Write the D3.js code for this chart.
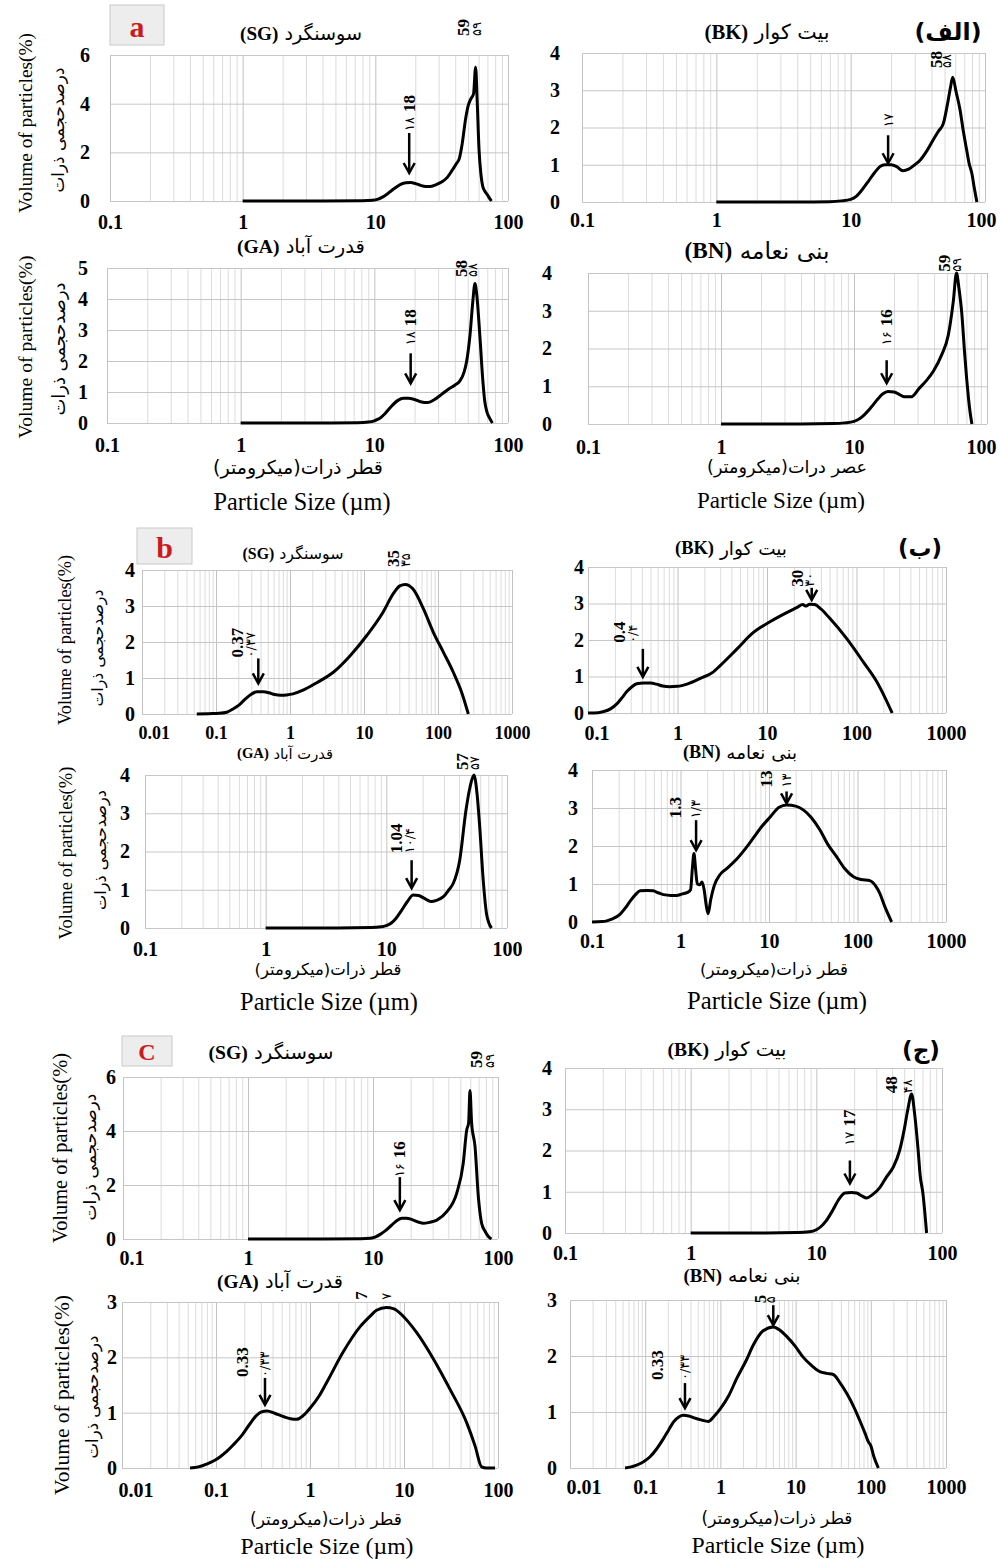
<!DOCTYPE html>
<html>
<head>
<meta charset="utf-8">
<script src="https://cdn.jsdelivr.net/npm/d3@7"></script>
<style>
  body { margin: 0; background: #fff; }
</style>
</head>
<body>
<svg id="chart" width="1000" height="1559"></svg>
<script>
// ---- tick values ----
const xTicks01to100 = [0.1, 1, 10, 100];
const xTicks001to1000 = [0.01, 0.1, 1, 10, 100, 1000];
const xTicks01to1000 = [0.1, 1, 10, 100, 1000];
const xTicks001to100 = [0.01, 0.1, 1, 10, 100];
const yTicks6 = [0, 2, 4, 6];
const yTicks5 = [0, 1, 2, 3, 4, 5];
const yTicks4 = [0, 1, 2, 3, 4];
const yTicks3 = [0, 1, 2, 3];

const stations = { SG: 'سوسنگرد', BK: 'بیت کوار', GA: 'قدرت آباد', BN: 'بنی نعامه' };

// ---- size distributions: [particle size (um), volume %] ----
// (a / الف)
const sgA = [[1,0],[4,0],[8,0.01],[9.5,0.03],[10.5,0.08],[11.5,0.18],[12.5,0.32],[14,0.52],[15.5,0.68],[17,0.75],[18.5,0.76],[20,0.72],[22,0.64],[24,0.6],[26,0.6],[29,0.68],[32,0.8],[35,0.98],[38,1.27],[41,1.55],[43,1.75],[45,2.3],[48,3.4],[50,3.9],[52.5,4.2],[55,4.4],[57,5.5],[58.5,4.2],[60.5,2.1],[62.5,1.1],[64.5,0.6],[67,0.4],[70,0.25],[72.5,0.12],[75,0]];
const bkA = [[1,0],[4,0],[7,0.01],[8.5,0.03],[10,0.07],[11,0.15],[12,0.3],[13.5,0.55],[15,0.78],[16.5,0.95],[18,1.0],[20,1.0],[22,0.95],[24.5,0.84],[27,0.88],[30,1.0],[33,1.13],[37,1.38],[41,1.66],[45,1.9],[49,2.11],[53,2.7],[55.5,3.1],[57.5,3.35],[61,2.95],[65,2.5],[69,1.9],[73,1.4],[76,1.05],[80,0.75],[83,0.4],[87,0]];
const gaA = [[1,0],[4,0],[7.5,0.01],[9,0.03],[10,0.07],[11,0.15],[12,0.3],[13.5,0.55],[15,0.73],[16.5,0.8],[18,0.8],[20,0.76],[22.5,0.68],[25,0.66],[28,0.75],[32,0.93],[36,1.1],[40,1.22],[43.5,1.35],[47,1.65],[49,1.98],[52,2.85],[54.5,3.9],[56.6,4.5],[58.5,4.1],[61.5,2.85],[65,1.3],[67,0.7],[69.5,0.36],[73,0.15],[76.5,0]];
const bnA = [[1,0],[4,0],[7,0.01],[8.5,0.03],[10,0.07],[11,0.14],[12,0.25],[13.5,0.45],[15,0.65],[16.5,0.8],[18,0.86],[20,0.85],[22,0.78],[24,0.72],[27,0.72],[31,0.95],[35,1.15],[39.4,1.39],[45.6,1.83],[51.2,2.36],[55.8,3.25],[59,4.0],[61.5,3.6],[64.5,2.97],[67.5,2.0],[70.3,1.2],[72.5,0.7],[74.5,0.33],[77,0]];
// (b / ب)
const sgB = [[0.055,0],[0.08,0.01],[0.11,0.02],[0.14,0.05],[0.17,0.14],[0.21,0.27],[0.25,0.42],[0.3,0.55],[0.36,0.62],[0.44,0.62],[0.52,0.59],[0.62,0.54],[0.75,0.52],[0.9,0.53],[1.1,0.56],[1.5,0.66],[2.3,0.87],[3.85,1.16],[6.5,1.62],[10.9,2.18],[18,2.82],[25,3.35],[30.5,3.56],[36,3.6],[46,3.47],[63.6,2.92],[86.5,2.27],[118,1.72],[161,1.16],[209,0.6],[257,0]];
const bkB = [[0.1,0],[0.13,0.01],[0.15,0.04],[0.18,0.12],[0.21,0.25],[0.24,0.42],[0.27,0.58],[0.31,0.72],[0.35,0.8],[0.42,0.82],[0.5,0.82],[0.58,0.79],[0.68,0.74],[0.82,0.72],[1.0,0.73],[1.3,0.8],[1.8,0.95],[2.5,1.12],[3.0,1.3],[4.6,1.75],[7,2.2],[10.8,2.5],[16.6,2.75],[22,2.9],[25,2.97],[27,2.93],[30,2.98],[34,2.97],[40,2.85],[50,2.6],[77,2.05],[119,1.4],[168,0.86],[210,0.4],[250,0]];
const gaB = [[1,0],[4,0],[7.5,0.01],[9,0.03],[10,0.06],[11,0.13],[12,0.25],[13.5,0.48],[15,0.7],[16.7,0.86],[18.5,0.85],[20.5,0.78],[23.5,0.69],[26,0.72],[29.7,0.82],[33,1.0],[35.9,1.17],[40.6,1.78],[45.7,3.08],[49.5,3.7],[53.2,4.0],[56.5,3.5],[59.4,2.65],[63.2,1.34],[67.6,0.38],[71,0.12],[74.5,0]];
const bnB = [[0.1,0],[0.13,0.01],[0.147,0.03],[0.17,0.08],[0.207,0.2],[0.24,0.38],[0.27,0.55],[0.31,0.72],[0.35,0.82],[0.42,0.83],[0.49,0.82],[0.56,0.77],[0.64,0.72],[0.78,0.7],[0.9,0.7],[1.05,0.74],[1.2,0.78],[1.3,0.85],[1.36,1.4],[1.42,1.8],[1.48,1.4],[1.55,1.0],[1.65,0.98],[1.75,1.05],[1.85,0.85],[1.95,0.45],[2.05,0.22],[2.2,0.6],[2.4,0.95],[2.8,1.25],[3.3,1.4],[4.3,1.65],[5.5,1.95],[6.6,2.2],[8.2,2.5],[10.2,2.75],[13,3.02],[15.8,3.08],[20,3.05],[24.4,2.95],[30,2.75],[37.7,2.42],[46,2.05],[58,1.72],[72,1.4],[90,1.19],[110,1.12],[138,1.09],[160,0.95],[179,0.75],[200,0.45],[243,0]];
// (c / ج)
const sgC = [[1,0],[4,0],[8,0.01],[9.5,0.03],[10.5,0.08],[11.5,0.18],[12.5,0.3],[14,0.5],[15.5,0.68],[17,0.77],[18.5,0.77],[20.5,0.72],[23,0.63],[25.2,0.58],[28.5,0.62],[32.4,0.7],[38.9,1.01],[46.7,1.69],[52.7,2.8],[56.2,4.04],[58.2,4.3],[59.7,5.5],[61.5,4.3],[65.5,3.42],[69.6,1.57],[74,0.58],[79,0.28],[83.4,0.1],[88.6,0]];
const bkC = [[1,0],[4,0],[7,0.01],[8.8,0.03],[10,0.08],[11,0.17],[12,0.3],[13.5,0.55],[15,0.8],[16.9,0.97],[19,0.98],[20.9,0.97],[23,0.9],[25.1,0.85],[28,0.93],[32,1.1],[36,1.35],[41,1.6],[46,2.0],[50,2.5],[53.5,3.0],[57.3,3.37],[60.5,2.9],[64.6,2.0],[67,1.4],[70.5,0.96],[73,0.5],[75.4,0]];
const gaC = [[0.053,0],[0.065,0.02],[0.079,0.07],[0.095,0.13],[0.11,0.2],[0.13,0.3],[0.153,0.42],[0.19,0.6],[0.23,0.8],[0.27,0.95],[0.3,1.01],[0.35,1.03],[0.42,0.99],[0.52,0.93],[0.62,0.89],[0.72,0.88],[0.85,0.95],[1.0,1.08],[1.25,1.3],[1.51,1.55],[2.26,2.1],[3.4,2.55],[4.4,2.75],[5.1,2.85],[6.5,2.9],[7.7,2.88],[9.06,2.8],[11,2.65],[13.6,2.45],[20.4,1.98],[30.9,1.42],[46.4,0.82],[57,0.4],[67,0.02],[75,0],[93,0]];
const bnC = [[0.054,0],[0.065,0.02],[0.077,0.05],[0.095,0.11],[0.116,0.2],[0.14,0.33],[0.174,0.52],[0.205,0.68],[0.237,0.82],[0.28,0.91],[0.32,0.94],[0.38,0.93],[0.437,0.9],[0.55,0.86],[0.69,0.83],[0.82,0.92],[0.99,1.05],[1.3,1.3],[1.65,1.6],[2.2,1.92],[2.75,2.2],[3.7,2.45],[5.06,2.52],[6.2,2.46],[7.6,2.35],[9.8,2.18],[12.6,1.98],[16,1.84],[21,1.72],[26,1.69],[31.7,1.67],[39,1.52],[48,1.33],[60,1.08],[71.8,0.84],[85,0.6],[92.6,0.47],[100,0.4],[110,0.2],[126,0]];

// ---- peak annotations: x = size, y = value at arrow tip / label foot ----
const notesA1 = [{x: 18, y: 1.15, en: '18', fa: '۱۸'}, {x: 57, y: 6.78, en: '59', fa: '۵۹'}];
const notesA2 = [{x: 19, y: 1.04, en: '', fa: '۱۷'}, {x: 57.5, y: 3.6, en: '58', fa: '۵۸'}];
const notesA3 = [{x: 18.7, y: 1.28, en: '18', fa: '۱۸'}, {x: 56.6, y: 4.71, en: '58', fa: '۵۸'}];
const notesA4 = [{x: 17.6, y: 1.08, en: '16', fa: '۱۶'}, {x: 59, y: 4.03, en: '59', fa: '۵۹'}];
const notesB1 = [{x: 0.373, y: 0.85, en: '0.37', fa: '۰/۳۷'}, {x: 35, y: 4.08, en: '35', fa: '۳۵'}];
const notesB2 = [{x: 0.41, y: 0.99, en: '0.4', fa: '۰/۴'}, {x: 31.6, y: 3.1, en: '30', fa: '۳۰'}];
const notesB3 = [{x: 16.2, y: 1.04, en: '1.04', fa: '۱۰/۴'}, {x: 53.2, y: 4.13, en: '57', fa: '۵۷'}];
const notesB4 = [{x: 1.5, y: 1.89, en: '1.3', fa: '۱/۳'}, {x: 15.8, y: 3.12, en: '13', fa: '۱۳'}];
const notesC1 = [{x: 16.4, y: 1.07, en: '16', fa: '۱۶'}, {x: 59.7, y: 6.33, en: '59', fa: '۵۹'}];
const notesC2 = [{x: 18.5, y: 1.2, en: '17', fa: '۱۷'}, {x: 57.3, y: 3.39, en: '48', fa: '۴۸'}];
const notesC3 = [{x: 0.332, y: 1.14, en: '0.33', fa: '۰/۳۳'}, {x: 6.55, y: 3.04, en: '7', fa: '۷'}];
const notesC4 = [{x: 0.338, y: 1.07, en: '0.33', fa: '۰/۳۳'}, {x: 5.05, y: 2.55, en: '5', fa: '۵'}];

const SERIF = '"Liberation Serif", "Times New Roman", serif';
const FA = '"DejaVu Sans", sans-serif';
const X_FA = 'قطر ذرات(میکرومتر)';
const X_EN = 'Particle Size (µm)';

// layout of each panel (pixels)
const panels = [
  {data: sgA, notes: notesA1, marks: [{arrow: 40, lift: 42, stack: true}, {lift: 0, enDx: -12, faDx: 1}],
   left: 110, right: 508, top: 55, bottom: 201, xTicks: xTicks01to100, yTicks: yTicks6, xDy: 21, yPad: 20,
   title: {code: 'SG', x: 301, y: 33, w: 122}, yTitle: {x: 25, y: 123, w: 180, fx: 58, fy: 130, fw: 125}},
  {data: bkA, notes: notesA2, marks: [{arrow: 28, lift: 36, stack: true}, {lift: 0, enDx: -16, faDx: -6}],
   left: 582, right: 985, top: 53, bottom: 202, xTicks: xTicks01to100, yTicks: yTicks4, xDy: 18, yPad: 22,
   title: {code: 'BK', x: 767, y: 32, w: 125}, section: {text: '(الف)', x: 948, y: 32, w: 67}},
  {data: gaA, notes: notesA3, marks: [{arrow: 30, lift: 38, stack: true}, {lift: 0, enDx: -13, faDx: -2}],
   left: 107, right: 508, top: 268, bottom: 423, xTicks: xTicks01to100, yTicks: yTicks5, xDy: 22, yPad: 19,
   title: {code: 'GA', x: 301, y: 246, w: 128}, yTitle: {x: 25, y: 347, w: 183, fx: 58, fy: 349, fw: 133},
   xTitle: {fa: X_FA, x: 298, y: 467, w: 170, ex: 302, ey: 501, ew: 177}},
  {data: bnA, notes: notesA4, marks: [{arrow: 23, lift: 38, stack: true}, {lift: 0, enDx: -12, faDx: 0}],
   left: 588, right: 987, top: 273, bottom: 424, xTicks: xTicks01to100, yTicks: yTicks4, xDy: 23, yPad: 36,
   title: {code: 'BN', x: 757, y: 250, w: 145},
   xTitle: {fa: 'عصر درات(میکرومتر)', x: 787, y: 467, w: 160, ex: 781, ey: 500, ew: 168}},

  {data: sgB, notes: notesB1, marks: [{arrow: 25, lift: 26, enDx: -21, faDx: -8}, {lift: 0, enDx: -11, faDx: 1}],
   left: 142, right: 512, top: 570, bottom: 714, xTicks: xTicks001to1000, yTicks: yTicks4, xDy: 19, yPad: 7, xFs: 18,
   title: {code: 'SG', x: 293, y: 553, w: 101}, box: {text: 'b', x: 137, y: 528, w: 55, h: 36, fs: 30},
   yTitle: {x: 65, y: 640, w: 170, fx: 97, fy: 648, fw: 117}},
  {data: bkB, notes: notesB2, marks: [{arrow: 28, lift: 34, enDx: -23, faDx: -10}, {arrow: 12, lift: 13, enDx: -14, faDx: -2}],
   left: 588, right: 946, top: 567, bottom: 713, xTicks: xTicks01to1000, yTicks: yTicks4, xDy: 20, yPad: 4,
   title: {code: 'BK', x: 731, y: 548, w: 112}, section: {text: '(ب)', x: 920, y: 548, w: 44}},
  {data: gaB, notes: notesB3, marks: [{arrow: 28, lift: 35, enDx: -15, faDx: -2}, {lift: 0, enDx: -11, faDx: 1}],
   left: 145, right: 507, top: 775, bottom: 928, xTicks: xTicks01to100, yTicks: yTicks4, xDy: 21, yPad: 15,
   title: {code: 'GA', x: 285, y: 753, w: 96}, yTitle: {x: 65, y: 853, w: 173, fx: 100, fy: 850, fw: 120},
   xTitle: {fa: X_FA, x: 328, y: 969, w: 147, ex: 329, ey: 1001, ew: 178}},
  {data: bnB, notes: notesB4, marks: [{arrow: 30, lift: 32, enDx: -21, faDx: -1}, {arrow: 12, lift: 16, enDx: -20, faDx: 0}],
   left: 592, right: 946, top: 770, bottom: 922, xTicks: xTicks01to1000, yTicks: yTicks4, xDy: 19, yPad: 14,
   title: {code: 'BN', x: 740, y: 752, w: 114},
   xTitle: {fa: X_FA, x: 774, y: 969, w: 148, ex: 777, ey: 1000, ew: 180}},

  {data: sgC, notes: notesC1, marks: [{arrow: 33, lift: 33, stack: true}, {lift: 0, enDx: 7, faDx: 20}],
   left: 123, right: 498, top: 1077, bottom: 1239, xTicks: xTicks01to100, yTicks: yTicks6, xDy: 19, yPad: 7,
   title: {code: 'SG', x: 271, y: 1052, w: 125}, box: {text: 'C', x: 122, y: 1036, w: 50, h: 30, fs: 24},
   yTitle: {x: 60, y: 1148, w: 190, fx: 90, fy: 1157, fw: 127}},
  {data: bkC, notes: notesC2, marks: [{arrow: 23, lift: 38, stack: true}, {lift: 0, enDx: -20, faDx: -4}],
   left: 565, right: 942, top: 1068, bottom: 1233, xTicks: xTicks01to100, yTicks: yTicks4, xDy: 20, yPad: 13,
   title: {code: 'BK', x: 727, y: 1049, w: 119}, section: {text: '(ج)', x: 921, y: 1049, w: 38}},
  {data: gaC, notes: notesC3, marks: [{arrow: 27, lift: 28, enDx: -22, faDx: 0}, {lift: 0, enDx: -25, faDx: 0}],
   left: 122, right: 498, top: 1302, bottom: 1468, xTicks: xTicks001to100, yTicks: yTicks3, xDy: 22, yPad: 5,
   title: {code: 'GA', x: 280, y: 1281, w: 126}, yTitle: {x: 62, y: 1395, w: 200, fx: 92, fy: 1397, fw: 123},
   xTitle: {fa: X_FA, x: 326, y: 1519, w: 152, ex: 327, ey: 1546, ew: 173}},
  {data: bnC, notes: notesC4, marks: [{arrow: 25, lift: 28, enDx: -27, faDx: 0}, {arrow: 20, lift: 22, enDx: -13, faDx: -3}],
   left: 570, right: 946, top: 1300, bottom: 1468, xTicks: xTicks001to1000, yTicks: yTicks3, xDy: 19, yPad: 13,
   title: {code: 'BN', x: 742, y: 1275, w: 117},
   xTitle: {fa: X_FA, x: 777, y: 1518, w: 151, ex: 778, ey: 1545, ew: 173}}
];

const svg = d3.select('#chart');

// scale a text's font size so that it spans the given width
function fitWidth(sel, w) {
  const len = sel.node().getComputedTextLength();
  if (len > 0) sel.attr('font-size', +sel.attr('font-size') * w / len);
  return sel;
}

function rotText(g, text, x, y, family, size, weight, anchor) {
  return g.append('text')
      .attr('transform', `translate(${x},${y}) rotate(-90)`)
      .attr('text-anchor', anchor || 'start')
      .attr('dominant-baseline', 'central')
      .attr('font-family', family)
      .attr('font-size', size)
      .attr('font-weight', weight)
      .text(text);
}

function drawPanel(p) {
  const x = d3.scaleLog()
      .domain([p.xTicks[0], p.xTicks[p.xTicks.length - 1]])
      .range([p.left, p.right]);
  const y = d3.scaleLinear()
      .domain([0, p.yTicks[p.yTicks.length - 1]])
      .range([p.bottom, p.top]);
  const h = p.bottom - p.top;
  const w = p.right - p.left;
  const g = svg.append('g');

  // log grid: minor lines 2..9 in every decade, then the decades
  const minor = [];
  p.xTicks.slice(0, -1).forEach(d => { for (let k = 2; k < 10; k++) minor.push(d * k); });
  g.append('g')
      .attr('transform', `translate(0,${p.bottom})`)
      .call(d3.axisBottom(x).tickValues(minor).tickSize(-h).tickFormat(''))
      .call(a => a.select('.domain').remove())
      .selectAll('line').attr('stroke', '#dcdcdc');
  g.append('g')
      .attr('transform', `translate(0,${p.bottom})`)
      .call(d3.axisBottom(x).tickValues(p.xTicks).tickSize(-h).tickFormat(''))
      .call(a => a.select('.domain').remove())
      .selectAll('line').attr('stroke', '#c2c2c2');
  g.append('g')
      .attr('transform', `translate(${p.left},0)`)
      .call(d3.axisLeft(y).tickValues(p.yTicks).tickSize(-w).tickFormat(''))
      .call(a => a.select('.domain').remove())
      .selectAll('line').attr('stroke', '#c6c6c6');

  // tick labels
  const xa = g.append('g')
      .attr('transform', `translate(0,${p.bottom + p.xDy})`)
      .call(d3.axisBottom(x).tickValues(p.xTicks).tickSize(0).tickPadding(0).tickFormat(d => String(d)))
      .attr('font-family', SERIF).attr('font-size', p.xFs || 20).attr('font-weight', 'bold');
  xa.select('.domain').remove();
  xa.selectAll('text')
      .attr('dy', '0.35em')
      .attr('fill', '#000')
      .each(function(d) {
        const bw = this.getComputedTextLength();
        const over = x(d) + bw / 2 - 996;
        if (over > 0) d3.select(this).attr('x', -over);
        const under = p.left - 4 - (x(d) - bw / 2);
        if (under > 0 && p.left - bw / 2 < p.left - p.yPad - 4) d3.select(this).attr('x', under);
      });

  const ya = g.append('g')
      .attr('transform', `translate(${p.left - p.yPad},0)`)
      .call(d3.axisLeft(y).tickValues(p.yTicks).tickSize(0).tickPadding(0).tickFormat(d => String(d)))
      .attr('font-family', SERIF).attr('font-size', 20).attr('font-weight', 'bold');
  ya.select('.domain').remove();
  ya.selectAll('text').attr('fill', '#000');

  // distribution curve
  const line = d3.line()
      .x(d => x(d[0]))
      .y(d => y(d[1]))
      .curve(d3.curveMonotoneX);
  g.append('path')
      .datum(p.data)
      .attr('d', line)
      .attr('fill', 'none')
      .attr('stroke', '#000')
      .attr('stroke-width', 3)
      .attr('stroke-linejoin', 'round');

  // arrows and peak labels
  p.notes.forEach((n, i) => {
    const m = p.marks[i];
    const X = x(n.x);
    const tip = y(n.y);
    if (m.arrow) {
      g.append('line')
          .attr('x1', X).attr('x2', X)
          .attr('y1', tip - m.arrow).attr('y2', tip - 2)
          .attr('stroke', '#000').attr('stroke-width', 2.5);
      g.append('path')
          .attr('d', `M${X - 5.5},${tip - 10}L${X},${tip}L${X + 5.5},${tip - 10}`)
          .attr('fill', 'none').attr('stroke', '#000').attr('stroke-width', 2.5);
    }
    const foot = tip - m.lift;
    const fa = rotText(g, n.fa, X + (m.stack ? 0 : m.faDx), foot, FA, 13, 'normal');
    if (n.en) {
      const enFoot = m.stack ? foot - fa.node().getComputedTextLength() - 5 : foot;
      rotText(g, n.en, X + (m.stack ? 0 : m.enDx), enFoot, SERIF, 17, 'bold');
    }
  });

  // panel title: (CODE) station name
  const t = svg.append('text')
      .attr('x', p.title.x).attr('y', p.title.y)
      .attr('text-anchor', 'middle')
      .attr('dominant-baseline', 'central')
      .attr('font-size', 18);
  t.append('tspan').attr('font-family', SERIF).attr('font-weight', 'bold').text(`(${p.title.code})`);
  t.append('tspan').attr('font-family', FA).text(' ' + stations[p.title.code]);
  fitWidth(t, p.title.w);

  if (p.section) {
    fitWidth(svg.append('text')
        .attr('x', p.section.x).attr('y', p.section.y)
        .attr('text-anchor', 'middle').attr('dominant-baseline', 'central')
        .attr('direction', 'rtl')
        .attr('font-family', FA).attr('font-weight', 'bold').attr('font-size', 18)
        .text(p.section.text), p.section.w);
  }

  if (p.box) {
    svg.append('rect')
        .attr('x', p.box.x).attr('y', p.box.y)
        .attr('width', p.box.w).attr('height', p.box.h)
        .attr('fill', '#ededed').attr('stroke', '#c9c9c9');
    svg.append('text')
        .attr('x', p.box.x + p.box.w / 2).attr('y', p.box.y + p.box.h / 2 + 1)
        .attr('text-anchor', 'middle').attr('dominant-baseline', 'central')
        .attr('font-family', SERIF).attr('font-weight', 'bold')
        .attr('font-size', p.box.fs).attr('fill', '#cc1b1b')
        .text(p.box.text);
  }

  if (p.yTitle) {
    fitWidth(rotText(svg, 'Volume of particles(%)', p.yTitle.x, p.yTitle.y, SERIF, 20, 'normal', 'middle'), p.yTitle.w);
    fitWidth(rotText(svg, 'درصدحجمی ذرات', p.yTitle.fx, p.yTitle.fy, FA, 15, 'normal', 'middle')
        .attr('direction', 'rtl'), p.yTitle.fw);
  }

  if (p.xTitle) {
    fitWidth(svg.append('text')
        .attr('x', p.xTitle.x).attr('y', p.xTitle.y)
        .attr('text-anchor', 'middle').attr('dominant-baseline', 'central')
        .attr('direction', 'rtl')
        .attr('font-family', FA).attr('font-size', 16)
        .text(p.xTitle.fa), p.xTitle.w);
    fitWidth(svg.append('text')
        .attr('x', p.xTitle.ex).attr('y', p.xTitle.ey)
        .attr('text-anchor', 'middle').attr('dominant-baseline', 'central')
        .attr('font-family', SERIF).attr('font-size', 22)
        .text(X_EN), p.xTitle.ew);
  }
}

panels.forEach(drawPanel);

// box for the first group
svg.append('rect')
    .attr('x', 110).attr('y', 5).attr('width', 54).attr('height', 40)
    .attr('fill', '#ededed').attr('stroke', '#c9c9c9');
svg.append('text')
    .attr('x', 137).attr('y', 26)
    .attr('text-anchor', 'middle').attr('dominant-baseline', 'central')
    .attr('font-family', SERIF).attr('font-weight', 'bold')
    .attr('font-size', 30).attr('fill', '#cc1b1b')
    .text('a');
</script>
</body>
</html>
